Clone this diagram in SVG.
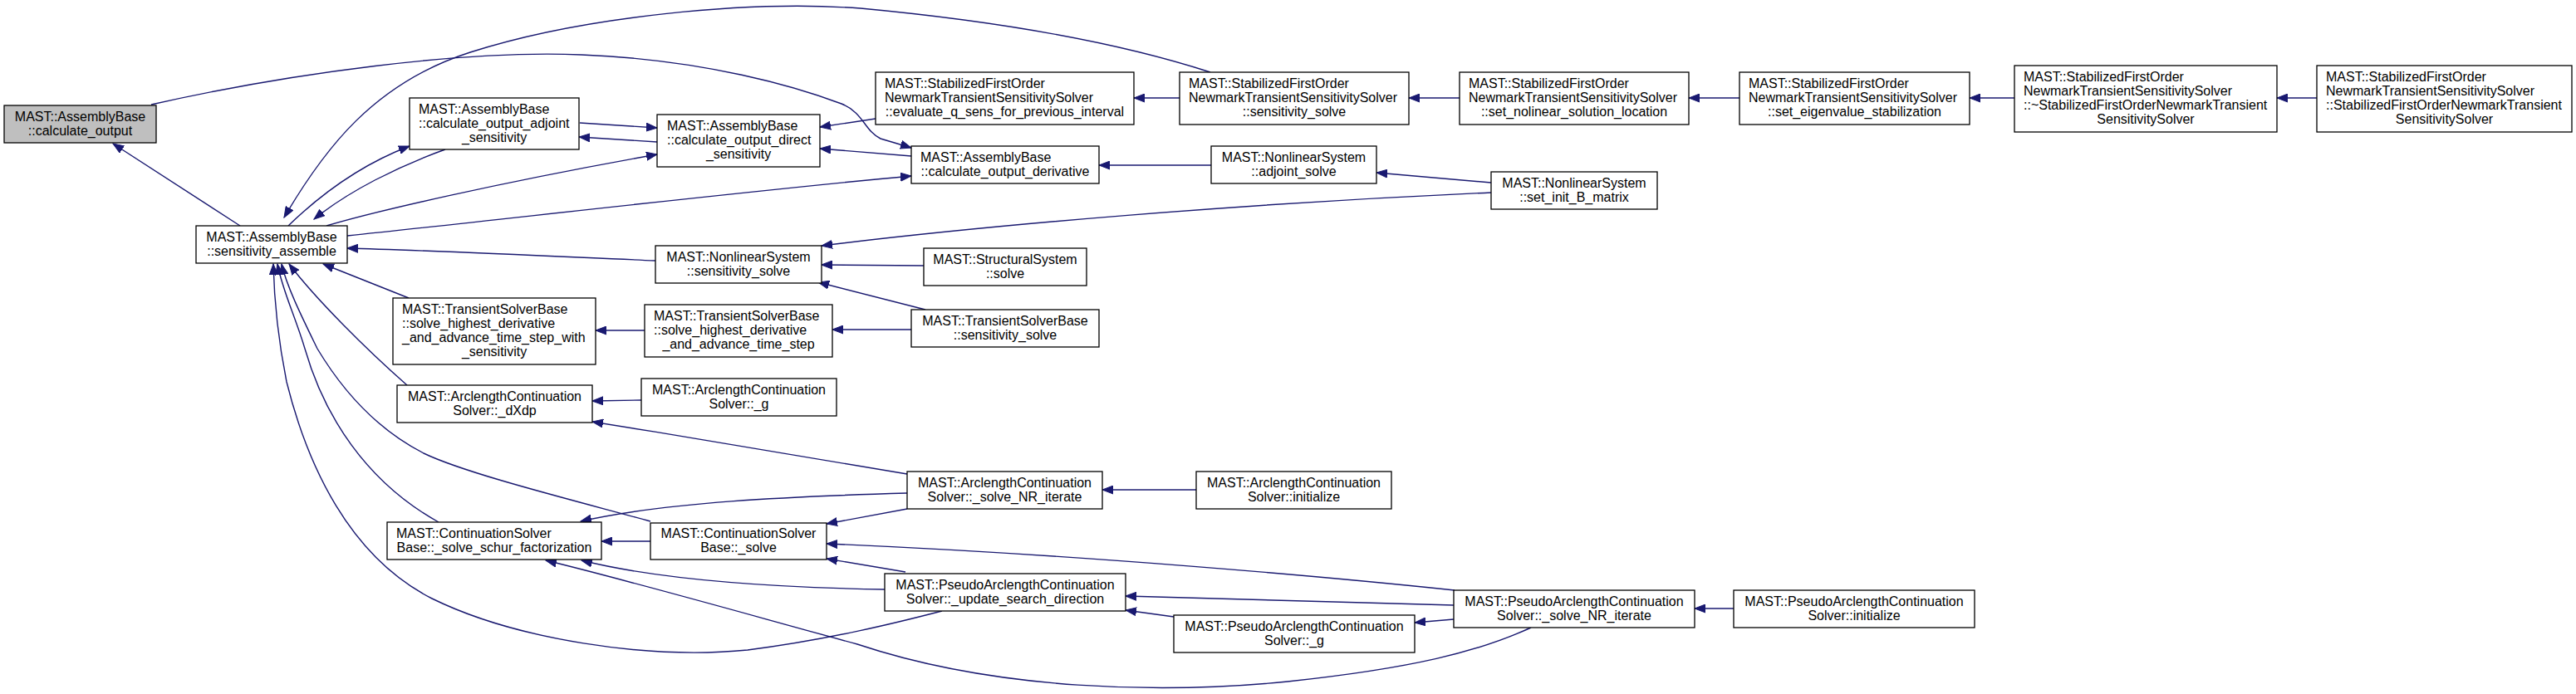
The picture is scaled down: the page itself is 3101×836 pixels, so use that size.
<svg xmlns="http://www.w3.org/2000/svg" width="3101" height="836" viewBox="0 0 3101 836">
<style>
.node rect{fill:#fff;stroke:#000;stroke-width:1.3}
.root rect{fill:#bfbfbf}
text{font-family:"Liberation Sans",Arial,Helvetica,sans-serif;font-size:16px;fill:#000}
.c{text-anchor:middle}
.edges path{fill:none;stroke:#191970;stroke-width:1.4;marker-end:url(#ah)}
</style>
<defs>
<marker id="ah" markerUnits="userSpaceOnUse" markerWidth="14" markerHeight="11" viewBox="0 0 14 11" refX="13" refY="5.5" orient="auto">
<path d="M0,0.5 L13,5.5 L0,10.5 z" fill="#191970" stroke="#191970" stroke-width="1"/>
</marker>
</defs>
<rect width="3101" height="836" fill="#fff"/>
<g class="edges">
<path d="M289,272 L136,173"/>
<path d="M182,126 C350,88 560,60 700,66 C850,72 960,105 1013,125 C1040,136 1040,157 1060,167 L1097,178"/>
<path d="M1457,87 C1380,62 1250,30 1036,10 C900,0 700,20 566,63 C450,100 390,180 342,262"/>
<path d="M347,272 C380,240 430,200 493,176"/>
<path d="M536,180 C480,200 420,230 378,264"/>
<path d="M393,272 C450,255 600,220 791,186"/>
<path d="M418,284 C600,265 900,230 1097,212"/>
<path d="M789,314 C650,308 500,301 418,299"/>
<path d="M492,359 L389,318"/>
<path d="M490,464 C440,420 380,360 348,318"/>
<path d="M783,628 C680,600 560,570 510,546 C440,510 400,450 382,420 C365,385 345,345 339,318"/>
<path d="M528,629 C440,580 390,500 367,420 C355,380 340,350 334,318"/>
<path d="M1134,736 C1080,750 1000,770 900,783 C780,795 620,770 520,721 C420,670 370,560 345,460 C335,410 330,360 329,318"/>
<path d="M1092,571 C1000,555 850,530 713,508"/>
<path d="M772,482 L713,483"/>
<path d="M1092,594 C950,598 800,605 699,628"/>
<path d="M1092,613 L995,631"/>
<path d="M783,652 L724,652"/>
<path d="M1751,711 C1600,695 1300,668 995,655"/>
<path d="M1090,689 L995,673"/>
<path d="M1065,710 C950,708 800,700 700,675"/>
<path d="M1843,756 C1780,785 1700,805 1550,821 C1400,836 1200,832 1032,776 C900,740 760,700 657,675"/>
<path d="M1750,729 C1600,725 1450,720 1355,718"/>
<path d="M1413,743 L1355,735"/>
<path d="M1750,746 L1703,750"/>
<path d="M2087,733 L2040,733"/>
<path d="M1440,590 L1327,590"/>
<path d="M776,398 L717,398"/>
<path d="M1097,397 L1002,397"/>
<path d="M1795,232 C1500,245 1200,270 989,296"/>
<path d="M1112,320 L989,319"/>
<path d="M1114,373 L985,340"/>
<path d="M698,148 L791,154"/>
<path d="M791,171 L697,165"/>
<path d="M1054,143 L987,153"/>
<path d="M1097,188 L987,179"/>
<path d="M1458,199 L1323,199"/>
<path d="M1795,220 L1657,208"/>
<path d="M1420,118 L1365,118"/>
<path d="M1757,118 L1696,118"/>
<path d="M2094,118 L2033,118"/>
<path d="M2425,118 L2371,118"/>
<path d="M2789,118 L2741,118"/>
</g>
<g id="n1" class="node root"><rect x="5" y="127" width="183" height="45"/><text class="c" x="96.5" y="146">MAST::AssemblyBase</text><text class="c" x="96.5" y="163">::calculate_output</text></g>
<g id="n2" class="node"><rect x="236" y="272" width="182" height="45"/><text class="c" x="327" y="291">MAST::AssemblyBase</text><text class="c" x="327" y="308">::sensitivity_assemble</text></g>
<g id="n3" class="node"><rect x="493" y="118" width="204" height="62"/><text x="504" y="137">MAST::AssemblyBase</text><text x="504" y="154">::calculate_output_adjoint</text><text class="c" x="595" y="171">_sensitivity</text></g>
<g id="n4" class="node"><rect x="791" y="138" width="196" height="63"/><text x="803" y="157">MAST::AssemblyBase</text><text x="803" y="174">::calculate_output_direct</text><text class="c" x="889" y="191">_sensitivity</text></g>
<g id="n5" class="node"><rect x="473" y="359" width="244" height="80"/><text x="484" y="378">MAST::TransientSolverBase</text><text x="484" y="395">::solve_highest_derivative</text><text x="484" y="412">_and_advance_time_step_with</text><text class="c" x="595" y="429">_sensitivity</text></g>
<g id="n6" class="node"><rect x="478" y="464" width="235" height="45"/><text class="c" x="595.5" y="483">MAST::ArclengthContinuation</text><text class="c" x="595.5" y="500">Solver::_dXdp</text></g>
<g id="n7" class="node"><rect x="466" y="629" width="258" height="45"/><text x="477" y="648">MAST::ContinuationSolver</text><text class="c" x="595" y="665">Base::_solve_schur_factorization</text></g>
<g id="n8" class="node"><rect x="789" y="296" width="200" height="45"/><text class="c" x="889" y="315">MAST::NonlinearSystem</text><text class="c" x="889" y="332">::sensitivity_solve</text></g>
<g id="n9" class="node"><rect x="776" y="367" width="226" height="63"/><text x="787" y="386">MAST::TransientSolverBase</text><text x="787" y="403">::solve_highest_derivative</text><text class="c" x="889" y="420">_and_advance_time_step</text></g>
<g id="n10" class="node"><rect x="772" y="456" width="235" height="45"/><text class="c" x="889.5" y="475">MAST::ArclengthContinuation</text><text class="c" x="889.5" y="492">Solver::_g</text></g>
<g id="n11" class="node"><rect x="783" y="630" width="212" height="44"/><text class="c" x="889" y="648">MAST::ContinuationSolver</text><text class="c" x="889" y="665">Base::_solve</text></g>
<g id="n12" class="node"><rect x="1054" y="87" width="311" height="63"/><text x="1065" y="106">MAST::StabilizedFirstOrder</text><text x="1065" y="123">NewmarkTransientSensitivitySolver</text><text class="c" x="1209.5" y="140">::evaluate_q_sens_for_previous_interval</text></g>
<g id="n13" class="node"><rect x="1097" y="176" width="226" height="45"/><text x="1108" y="195">MAST::AssemblyBase</text><text class="c" x="1210" y="212">::calculate_output_derivative</text></g>
<g id="n14" class="node"><rect x="1112" y="299" width="196" height="45"/><text class="c" x="1210" y="318">MAST::StructuralSystem</text><text class="c" x="1210" y="335">::solve</text></g>
<g id="n15" class="node"><rect x="1097" y="373" width="226" height="45"/><text class="c" x="1210" y="392">MAST::TransientSolverBase</text><text class="c" x="1210" y="409">::sensitivity_solve</text></g>
<g id="n16" class="node"><rect x="1092" y="568" width="235" height="45"/><text class="c" x="1209.5" y="587">MAST::ArclengthContinuation</text><text class="c" x="1209.5" y="604">Solver::_solve_NR_iterate</text></g>
<g id="n17" class="node"><rect x="1065" y="691" width="290" height="45"/><text class="c" x="1210" y="710">MAST::PseudoArclengthContinuation</text><text class="c" x="1210" y="727">Solver::_update_search_direction</text></g>
<g id="n18" class="node"><rect x="1420" y="87" width="276" height="63"/><text x="1431" y="106">MAST::StabilizedFirstOrder</text><text x="1431" y="123">NewmarkTransientSensitivitySolver</text><text class="c" x="1558" y="140">::sensitivity_solve</text></g>
<g id="n19" class="node"><rect x="1458" y="176" width="199" height="45"/><text class="c" x="1557.5" y="195">MAST::NonlinearSystem</text><text class="c" x="1557.5" y="212">::adjoint_solve</text></g>
<g id="n20" class="node"><rect x="1440" y="568" width="235" height="45"/><text class="c" x="1557.5" y="587">MAST::ArclengthContinuation</text><text class="c" x="1557.5" y="604">Solver::initialize</text></g>
<g id="n21" class="node"><rect x="1413" y="741" width="290" height="45"/><text class="c" x="1558" y="760">MAST::PseudoArclengthContinuation</text><text class="c" x="1558" y="777">Solver::_g</text></g>
<g id="n22" class="node"><rect x="1757" y="87" width="276" height="63"/><text x="1768" y="106">MAST::StabilizedFirstOrder</text><text x="1768" y="123">NewmarkTransientSensitivitySolver</text><text class="c" x="1895" y="140">::set_nolinear_solution_location</text></g>
<g id="n23" class="node"><rect x="1795" y="207" width="200" height="45"/><text class="c" x="1895" y="226">MAST::NonlinearSystem</text><text class="c" x="1895" y="243">::set_init_B_matrix</text></g>
<g id="n24" class="node"><rect x="1750" y="711" width="290" height="45"/><text class="c" x="1895" y="730">MAST::PseudoArclengthContinuation</text><text class="c" x="1895" y="747">Solver::_solve_NR_iterate</text></g>
<g id="n25" class="node"><rect x="2094" y="87" width="277" height="63"/><text x="2105" y="106">MAST::StabilizedFirstOrder</text><text x="2105" y="123">NewmarkTransientSensitivitySolver</text><text class="c" x="2232.5" y="140">::set_eigenvalue_stabilization</text></g>
<g id="n26" class="node"><rect x="2425" y="79" width="316" height="80"/><text x="2436" y="98">MAST::StabilizedFirstOrder</text><text x="2436" y="115">NewmarkTransientSensitivitySolver</text><text x="2436" y="132">::~StabilizedFirstOrderNewmarkTransient</text><text class="c" x="2583" y="149">SensitivitySolver</text></g>
<g id="n27" class="node"><rect x="2087" y="711" width="290" height="45"/><text class="c" x="2232" y="730">MAST::PseudoArclengthContinuation</text><text class="c" x="2232" y="747">Solver::initialize</text></g>
<g id="n28" class="node"><rect x="2789" y="79" width="307" height="80"/><text x="2800" y="98">MAST::StabilizedFirstOrder</text><text x="2800" y="115">NewmarkTransientSensitivitySolver</text><text x="2800" y="132">::StabilizedFirstOrderNewmarkTransient</text><text class="c" x="2942.5" y="149">SensitivitySolver</text></g>
</svg>
